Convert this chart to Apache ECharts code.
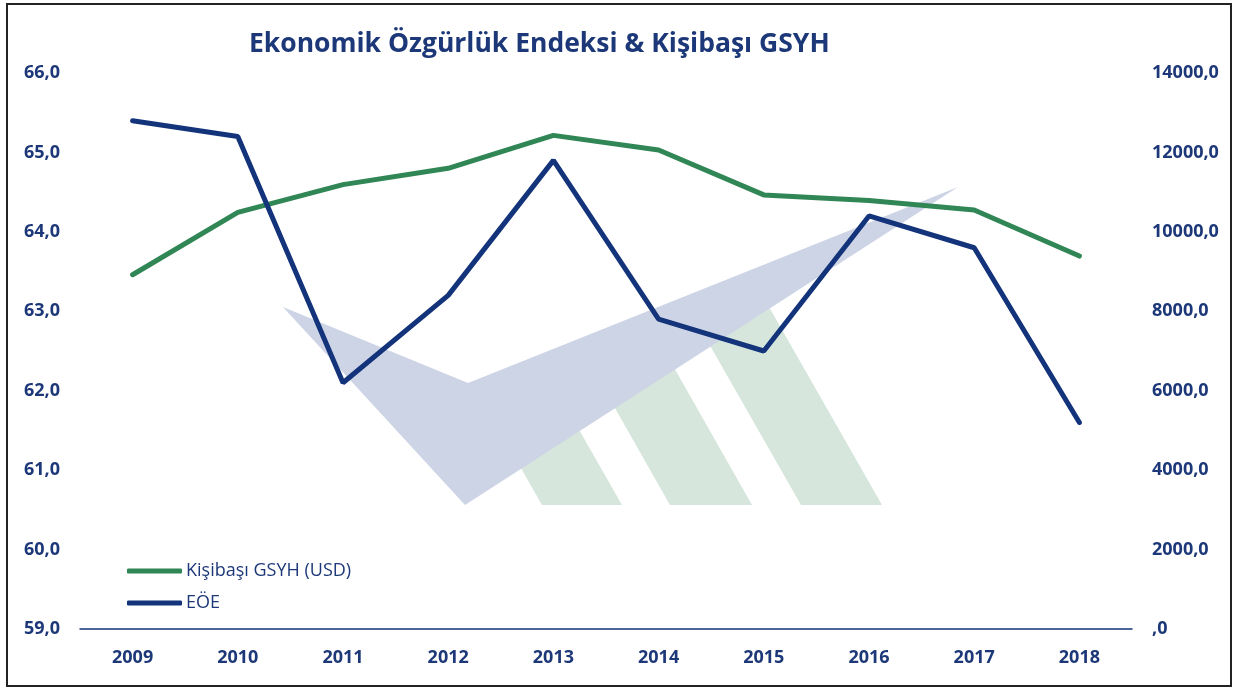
<!DOCTYPE html>
<html>
<head>
<meta charset="utf-8">
<title>Ekonomik Özgürlük Endeksi & Kişibaşı GSYH</title>
<script src="https://cdn.jsdelivr.net/npm/echarts@6/dist/echarts.min.js"></script>
<style>
  html, body { margin: 0; padding: 0; background: #fff; }
  #chart { width: 1234px; height: 689px; }
</style>
</head>
<body>
<div id="chart"></div>
<script>
// years on the x axis
const years = ['2009', '2010', '2011', '2012', '2013', '2014', '2015', '2016', '2017', '2018']
// Kişibaşı GSYH (USD), right axis
const gsyh = [8920, 10490, 11190, 11600, 12430, 12060, 10930, 10790, 10550, 9390]
// EÖE (Ekonomik Özgürlük Endeksi), left axis
const eoe = [65.4, 65.2, 62.1, 63.2, 64.9, 62.9, 62.5, 64.2, 63.8, 61.6]

const navy = '#13337a'
const green = '#318656'
const labelColor = '#1d3878'

const chart = echarts.init(document.getElementById('chart'))

chart.setOption({
  backgroundColor: '#fff',
  animation: false,
  title: {
    text: 'Ekonomik Özgürlük Endeksi & Kişibaşı GSYH',
    left: 244,
    top: 26,
    textStyle: {
      fontFamily: 'Open Sans',
      fontWeight: 'bold',
      fontSize: 26.5,
      color: labelColor
    }
  },
  legend: {
    orient: 'vertical',
    left: 127,
    top: 562,
    padding: 0,
    itemWidth: 55,
    itemHeight: 5,
    itemGap: 14,
    icon: 'roundRect',
    textStyle: {
      fontFamily: 'Open Sans',
      fontSize: 18,
      color: labelColor,
      padding: [0, 0, 0, -1]
    }
  },
  grid: {
    left: 80,
    right: 102,
    top: 73,
    bottom: 60
  },
  // watermark logo behind the lines
  graphic: [
    {
      type: 'rect',
      shape: { x: 7, y: 4, width: 1224, height: 682 },
      style: { fill: null, stroke: '#222', lineWidth: 2 },
      silent: true
    },
    {
      type: 'polygon',
      shape: { points: [[542, 505], [622, 505], [562, 400], [482, 400]] },
      style: { fill: '#d6e6dc' },
      silent: true
    },
    {
      type: 'polygon',
      shape: { points: [[670, 505], [752, 505], [664, 350], [582, 350]] },
      style: { fill: '#d6e6dc' },
      silent: true
    },
    {
      type: 'polygon',
      shape: { points: [[801, 505], [882, 505], [769, 307], [688, 307]] },
      style: { fill: '#d6e6dc' },
      silent: true
    },
    {
      type: 'polygon',
      shape: { points: [[283, 307], [468, 383], [958, 187], [465, 505]] },
      style: { fill: '#cdd4e5' },
      silent: true
    }
  ],
  xAxis: {
    type: 'category',
    data: years,
    axisLine: { lineStyle: { color: navy, width: 1.5 } },
    axisTick: { show: false },
    axisLabel: {
      margin: 20,
      fontFamily: 'Open Sans',
      fontWeight: 'bold',
      fontSize: 18,
      color: labelColor
    }
  },
  yAxis: [
    {
      type: 'value',
      min: 59,
      max: 66,
      interval: 1,
      splitLine: { show: false },
      axisLine: { show: false },
      axisTick: { show: false },
      axisLabel: {
        margin: 20,
        fontFamily: 'Open Sans',
        fontWeight: 'bold',
        fontSize: 18,
        color: labelColor,
        formatter: (v) => v.toFixed(1).replace('.', ',')
      }
    },
    {
      type: 'value',
      min: 0,
      max: 14000,
      interval: 2000,
      splitLine: { show: false },
      axisLine: { show: false },
      axisTick: { show: false },
      axisLabel: {
        margin: 20,
        fontFamily: 'Open Sans',
        fontWeight: 'bold',
        fontSize: 18,
        color: labelColor,
        formatter: (v) => (v === 0 ? '' : v) + ',0'
      }
    }
  ],
  series: [
    {
      name: 'Kişibaşı GSYH (USD)',
      type: 'line',
      yAxisIndex: 1,
      data: gsyh,
      symbol: 'none',
      color: green,
      lineStyle: { width: 5, color: green, cap: 'round' }
    },
    {
      name: 'EÖE',
      type: 'line',
      yAxisIndex: 0,
      data: eoe,
      symbol: 'none',
      color: navy,
      lineStyle: { width: 5, color: navy, cap: 'round' }
    }
  ]
})
</script>
</body>
</html>
